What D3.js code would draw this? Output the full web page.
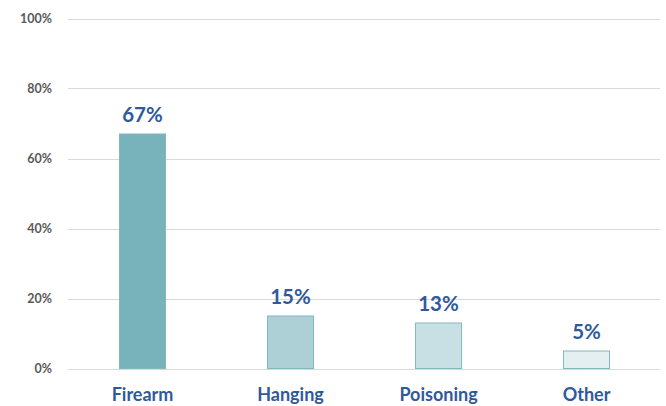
<!DOCTYPE html>
<html><head><meta charset="utf-8">
<script src="https://cdn.jsdelivr.net/npm/d3@7"></script>
<style>body{margin:0;background:#fff}svg{display:block}</style>
</head><body>
<svg id="c" width="666" height="406"></svg>
<script>
const categories = ["Firearm", "Hanging", "Poisoning", "Other"];
const values = [67, 15, 13, 5];
const fills = ["#78b2bb", "#acd0d5", "#c8e0e3", "#e3eff0"];
const tickValues = [0, 20, 40, 60, 80, 100];

const svg = d3.select("#c");
const x = d3.scaleBand().domain(categories).range([68.5, 660.5]).paddingInner(0.682).paddingOuter(0.341);
const y = d3.scaleLinear().domain([0, 100]).range([368.5, 18.5]);
const font = "Lato, 'Open Sans', sans-serif";

// gridlines
svg.append("g").selectAll("line").data(tickValues).join("line")
  .attr("x1", 68).attr("x2", 660)
  .attr("y1", d => Math.round(y(d)) + 0.5).attr("y2", d => Math.round(y(d)) + 0.5)
  .attr("stroke", "#d9d9d9").attr("stroke-width", 1);

// y axis labels
const yAxis = d3.axisLeft(y).tickValues(tickValues).tickFormat(d => d + "%").tickSize(0).tickPadding(0);
const ga = svg.append("g").attr("transform", "translate(52,0)").call(yAxis);
ga.select(".domain").remove();
ga.selectAll("text").attr("font-family", font).attr("font-weight", "bold")
  .attr("font-size", "12.5px").attr("fill", "#595959");

// bars
svg.append("g").selectAll("rect").data(values).join("rect")
  .attr("x", (d, i) => x(categories[i]) + 0.5)
  .attr("width", x.bandwidth() - 1)
  .attr("y", d => y(d))
  .attr("height", d => y(0) - y(d))
  .attr("fill", (d, i) => fills[i])
  .attr("stroke", "#80b8c0").attr("stroke-width", 1);

// value labels
svg.append("g").selectAll("text").data(values).join("text")
  .attr("x", (d, i) => x(categories[i]) + x.bandwidth() / 2)
  .attr("y", d => y(d) - 12)
  .attr("text-anchor", "middle")
  .attr("font-family", font).attr("font-weight", "bold").attr("font-size", "20.5px")
  .attr("fill", "#2f5a9a")
  .text(d => d + "%");

// category labels
const xAxis = d3.axisBottom(x).tickSize(0).tickPadding(0);
const gx = svg.append("g").attr("transform", "translate(0,388)").call(xAxis);
gx.select(".domain").remove();
gx.selectAll("text").attr("font-family", font).attr("font-weight", "bold")
  .attr("font-size", "18px").attr("fill", "#2f5a9a");
</script>
</body></html>
